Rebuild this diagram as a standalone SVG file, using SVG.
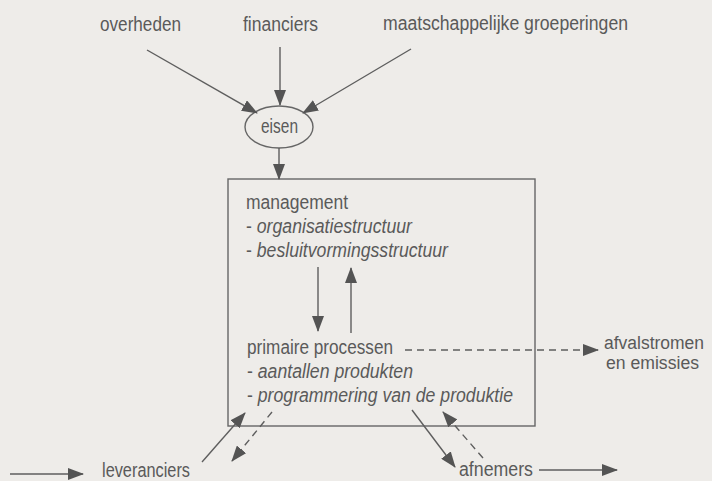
<svg xmlns="http://www.w3.org/2000/svg" width="712" height="481" viewBox="0 0 712 481">
  <style>
    text { font-family: "Liberation Sans", Arial, sans-serif; font-size: 20px; fill: #5a5a5a; }
    .it { font-style: italic; }
    .sm { font-size: 18px; }
    .ln { stroke: #5e5e5e; stroke-width: 1.4; fill: none; }
    .dash { stroke-dasharray: 7 5; }
    .box { stroke: #666; stroke-width: 1.4; fill: none; }
  </style>
  <defs>
    <marker id="head" viewBox="0 0 16 12" refX="15" refY="6" markerWidth="16" markerHeight="12" markerUnits="userSpaceOnUse" orient="auto">
      <path d="M0,0 L16,6 L0,12 Z" fill="#545454"/>
    </marker>
  </defs>

  <rect width="712" height="481" fill="#eeece9"/>

  <!-- sources of demands -->
  <g id="overheden"><text x="100" y="31" textLength="81" lengthAdjust="spacingAndGlyphs">overheden</text></g>
  <g id="financiers"><text x="243" y="31" textLength="75" lengthAdjust="spacingAndGlyphs">financiers</text></g>
  <g id="groeperingen"><text x="383" y="30" textLength="245" lengthAdjust="spacingAndGlyphs">maatschappelijke groeperingen</text></g>

  <!-- demands -->
  <g id="eisen">
    <ellipse cx="279" cy="127" rx="34" ry="21" class="box"/>
    <text x="261" y="133" textLength="37" lengthAdjust="spacingAndGlyphs">eisen</text>
  </g>

  <!-- organisation -->
  <g id="organisatie">
    <rect x="228" y="179" width="307" height="247" class="box"/>
    <text x="246" y="209" textLength="102" lengthAdjust="spacingAndGlyphs">management</text>
    <text x="246" y="233" textLength="166" lengthAdjust="spacingAndGlyphs"><tspan>- </tspan><tspan class="it">organisatiestructuur</tspan></text>
    <text x="246" y="257" textLength="202" lengthAdjust="spacingAndGlyphs"><tspan>- </tspan><tspan class="it">besluitvormingsstructuur</tspan></text>
    <text x="247" y="354" textLength="146" lengthAdjust="spacingAndGlyphs">primaire processen</text>
    <text x="247" y="378" textLength="166" lengthAdjust="spacingAndGlyphs"><tspan>- </tspan><tspan class="it">aantallen produkten</tspan></text>
    <text x="247" y="402" textLength="266" lengthAdjust="spacingAndGlyphs"><tspan>- </tspan><tspan class="it">programmering van de produktie</tspan></text>
  </g>

  <g id="afval">
    <text class="sm" x="604" y="349" textLength="100" lengthAdjust="spacingAndGlyphs">afvalstromen</text>
    <text class="sm" x="606" y="369" textLength="93" lengthAdjust="spacingAndGlyphs">en emissies</text>
  </g>
  <g id="leveranciers"><text x="102" y="477" textLength="88" lengthAdjust="spacingAndGlyphs">leveranciers</text></g>
  <g id="afnemers"><text x="459" y="476" textLength="74" lengthAdjust="spacingAndGlyphs">afnemers</text></g>

  <!-- connectors -->
  <g id="connectors">
    <line x1="147" y1="50" x2="257" y2="113" class="ln" marker-end="url(#head)"/>
    <line x1="280" y1="47" x2="280" y2="105" class="ln" marker-end="url(#head)"/>
    <line x1="411" y1="49" x2="303" y2="113" class="ln" marker-end="url(#head)"/>
    <line x1="279" y1="148" x2="279" y2="179" class="ln" marker-end="url(#head)"/>

    <line x1="318" y1="267" x2="318" y2="331" class="ln" marker-end="url(#head)"/>
    <line x1="351" y1="333" x2="351" y2="268" class="ln" marker-end="url(#head)"/>

    <line x1="405" y1="350" x2="598" y2="350" class="ln dash" marker-end="url(#head)"/>

    <line x1="202" y1="462" x2="245" y2="413" class="ln" marker-end="url(#head)"/>
    <line x1="272" y1="412" x2="232" y2="461" class="ln dash" marker-end="url(#head)"/>

    <line x1="412" y1="410" x2="455" y2="467" class="ln" marker-end="url(#head)"/>
    <line x1="483" y1="458" x2="443" y2="412" class="ln dash" marker-end="url(#head)"/>

    <line x1="10" y1="474" x2="83" y2="474" class="ln" marker-end="url(#head)"/>
    <line x1="539" y1="470" x2="617" y2="470" class="ln" marker-end="url(#head)"/>
  </g>
</svg>
